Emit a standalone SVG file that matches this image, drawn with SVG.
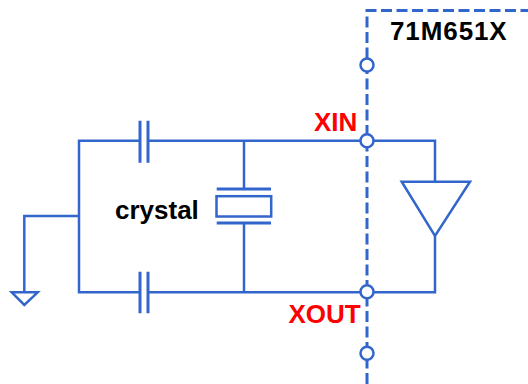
<svg xmlns="http://www.w3.org/2000/svg" width="528" height="384" viewBox="0 0 528 384">
<style>
.w{fill:none;stroke:#3366cc;stroke-width:2.5;stroke-linecap:butt;stroke-linejoin:miter}
.p{fill:none;stroke:#3366cc;stroke-width:3}
.d{fill:none;stroke:#3366cc;stroke-width:3;stroke-dasharray:11 4.5}
.pin{fill:#fff;stroke:#3366cc;stroke-width:2.5}
.t{font-family:"Liberation Sans",Arial,sans-serif;font-weight:bold;font-size:26px}
.r{fill:#ff0000}
.k{fill:#000}
</style>
<rect width="528" height="384" fill="#fff"/>
<g id="chip-boundary">
<path class="d" d="M367 384 V10.5 H528"/>
<text class="t k" x="390" y="40" letter-spacing="0.9">71M651X</text>
</g>
<g id="connectors">
<path class="w" d="M140 140.7 H79 V292.3 H140"/>
<path class="w" d="M148 140.7 H435 V181.7"/>
<path class="w" d="M148 292.3 H435 V236"/>
<path class="w" d="M244 140.7 V189"/>
<path class="w" d="M244 223 V292.3"/>
<path class="w" d="M79 216 H24.3 V292.3"/>
</g>
<g id="cap-top">
<path class="p" d="M140 120.7 V162.7 M148 120.7 V162.7"/>
</g>
<g id="cap-bottom">
<path class="p" d="M140 271.7 V313.3 M148 271.7 V313.3"/>
</g>
<g id="crystal">
<path class="p" d="M216.7 189 H271"/>
<rect class="w" x="216.5" y="196.2" width="54.7" height="20.3"/>
<path class="p" d="M216.7 223 H271"/>
<text class="t k" x="115" y="219">crystal</text>
</g>
<g id="ground">
<path class="w" d="M11.7 292.3 H37.7 L24.3 305 Z"/>
</g>
<g id="buffer">
<path class="w" d="M401.7 181.7 H470 L435 236 Z"/>
</g>
<g id="pin-top"><circle class="pin" cx="367" cy="65" r="6.5"/></g>
<g id="pin-xin">
<circle class="pin" cx="367" cy="140.7" r="6.5"/>
<text class="t r" x="314" y="130.7">XIN</text>
</g>
<g id="pin-xout">
<circle class="pin" cx="367" cy="291.7" r="6.5"/>
<text class="t r" x="288.5" y="322.7">XOUT</text>
</g>
<g id="pin-bottom"><circle class="pin" cx="367" cy="353.3" r="6.5"/></g>
</svg>
